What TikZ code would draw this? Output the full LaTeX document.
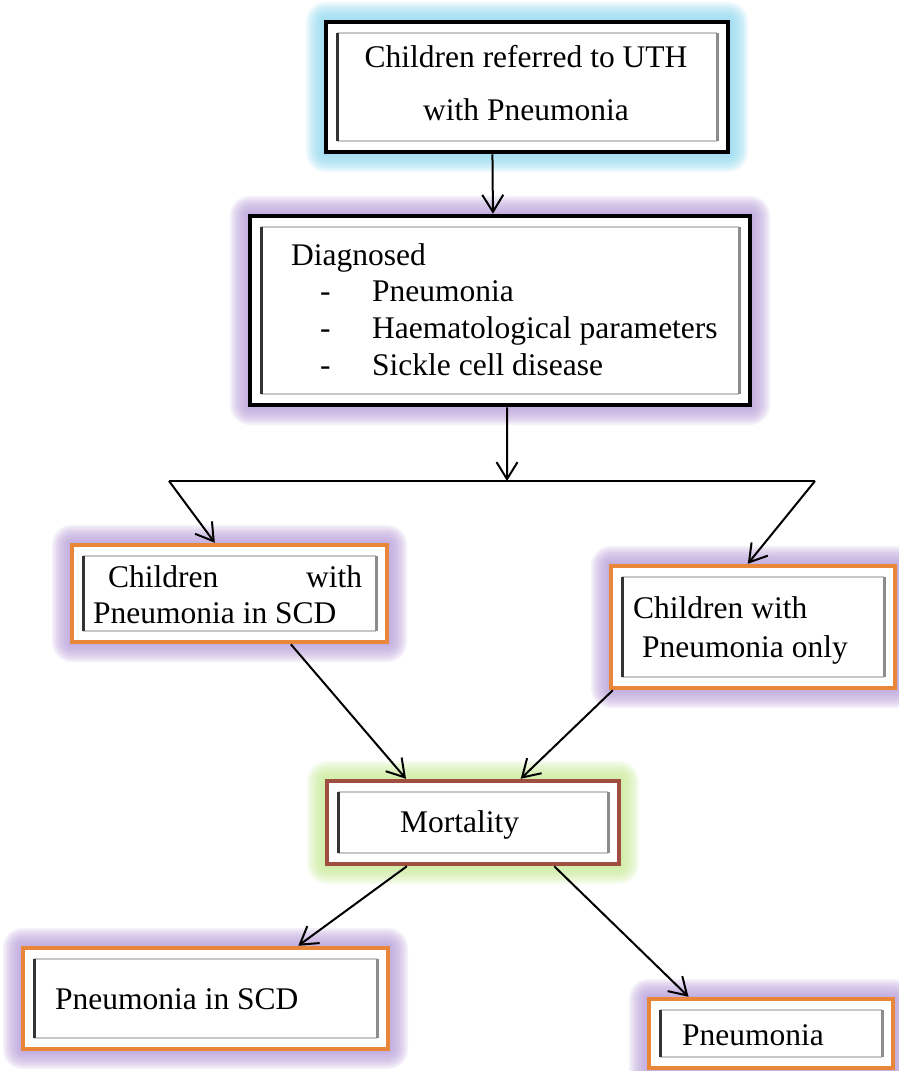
\documentclass[tikz,border=0pt]{standalone}
\usepackage{fontspec}
\setmainfont{Liberation Serif}
\usetikzlibrary{arrows.meta,calc}
\definecolor{glowcyan}{HTML}{8ED9F2}
\definecolor{glowpurple}{HTML}{B89FDA}
\definecolor{glowgreen}{HTML}{C8EC95}
\definecolor{borderorange}{HTML}{E8873A}
\definecolor{borderbrown}{HTML}{A04E40}
\tikzset{
  framelight/.style={draw=black!22,line width=2pt},
  framedark/.style={draw=black!80,line width=3pt},
  framemid/.style={draw=black!45,line width=3pt},
  label/.style={inner sep=0pt,anchor=base west,font=\fontsize{31.5}{37}\selectfont},
  labelc/.style={inner sep=0pt,anchor=base,font=\fontsize{31.5}{37}\selectfont},
  arr/.style={draw=black,line width=2pt,-{Straight Barb[length=17pt,width=21pt,line width=2pt]}},
  plain/.style={draw=black,line width=2pt},
}
\newcommand\glowframe[7]{%
  \foreach \g in {20,18,...,2}{%
    \fill[#7,opacity=0.15,rounded corners=\g] ({#2-\g},{#3-\g}) rectangle ({#4+\g},{#5+\g});}
  \node[draw=#6,line width=4.5pt,fill=white,inner sep=0pt,
        minimum width=#4pt-#2pt,minimum height=#5pt-#3pt] (#1) at ({(#2+#4)/2},{(#3+#5)/2}) {};
  \draw[framelight] ({#2+11},{#3+11}) -- ({#4-11},{#3+11});
  \draw[framelight] ({#2+11},{#5-11}) -- ({#4-11},{#5-11});
  \draw[framedark] ({#2+11},{#3+11}) -- ({#2+11},{#5-11});
  \draw[framemid] ({#4-11},{#3+11}) -- ({#4-11},{#5-11});
}
\begin{document}
\begin{tikzpicture}[x=1pt,y=-1pt]
\useasboundingbox (0,0) rectangle (899,1071);
\fill[white] (0,0) rectangle (899,1071);

% boxes
\glowframe{b1}{326}{22}{728}{152}{black}{glowcyan}
\glowframe{b2}{250}{216}{750}{405}{black}{glowpurple}
\glowframe{b3}{72}{545}{387}{642}{borderorange}{glowpurple}
\glowframe{b4}{611}{566}{895}{688}{borderorange}{glowpurple}
\glowframe{b5}{327}{781}{619}{864}{borderbrown}{glowgreen}
\glowframe{b6}{23}{948}{388}{1049}{borderorange}{glowpurple}
\glowframe{b7}{649}{999}{893}{1068}{borderorange}{glowpurple}

% texts
\node[labelc] (t1a) at (526,67) {Children referred to UTH};
\node[labelc] (t1b) at (526,120) {with Pneumonia};

\node[label] (t2a) at (291,265) {Diagnosed};
\node[label] (t2b) at (320,301) {-};
\node[label] (t2c) at (372,301) {Pneumonia};
\node[label] (t2d) at (320,338) {-};
\node[label] (t2e) at (372,338) {Haematological parameters};
\node[label] (t2f) at (320,375) {-};
\node[label] (t2g) at (372,375) {Sickle cell disease};

\node[label] (t3a) at (108,587) {\makebox[254pt][l]{Children\hfill with}};
\node[label] (t3b) at (93,623) {Pneumonia in SCD};

\node[label] (t4a) at (633,618) {Children with};
\node[label] (t4b) at (642,657) {Pneumonia only};

\node[label] (t5) at (400,832) {Mortality};
\node[label] (t6) at (55,1009) {Pneumonia in SCD};
\node[label] (t7) at (682,1045) {Pneumonia};

% connectors
\coordinate (hl) at (169,481);
\coordinate (hr) at (815,481);
\coordinate (hm) at (507,481);

\draw[arr] ($(b1.south west)!0.415!(b1.south east)$) -- ($(b2.north west)!0.486!(b2.north east)$);
\draw[arr] ($(b2.south west)!0.514!(b2.south east)$) -- (hm);
\draw[plain] (hl) -- (hr);
\draw[arr] (hl) -- ($(b3.north west)!0.454!(b3.north east)$);
\draw[arr] (hr) -- ($(b4.north west)!0.482!(b4.north east)$);
\draw[arr] ($(b3.south west)!0.692!(b3.south east)$) -- ($(b5.north west)!0.274!(b5.north east)$);
\draw[arr] ($(b4.south west)!0.014!(b4.south east)$) -- ($(b5.north west)!0.661!(b5.north east)$);
\draw[arr] ($(b5.south west)!0.277!(b5.south east)$) -- ($(b6.north west)!0.751!(b6.north east)$);
\draw[arr] ($(b5.south west)!0.774!(b5.south east)$) -- ($(b7.north west)!0.168!(b7.north east)$);
\end{tikzpicture}
\end{document}
